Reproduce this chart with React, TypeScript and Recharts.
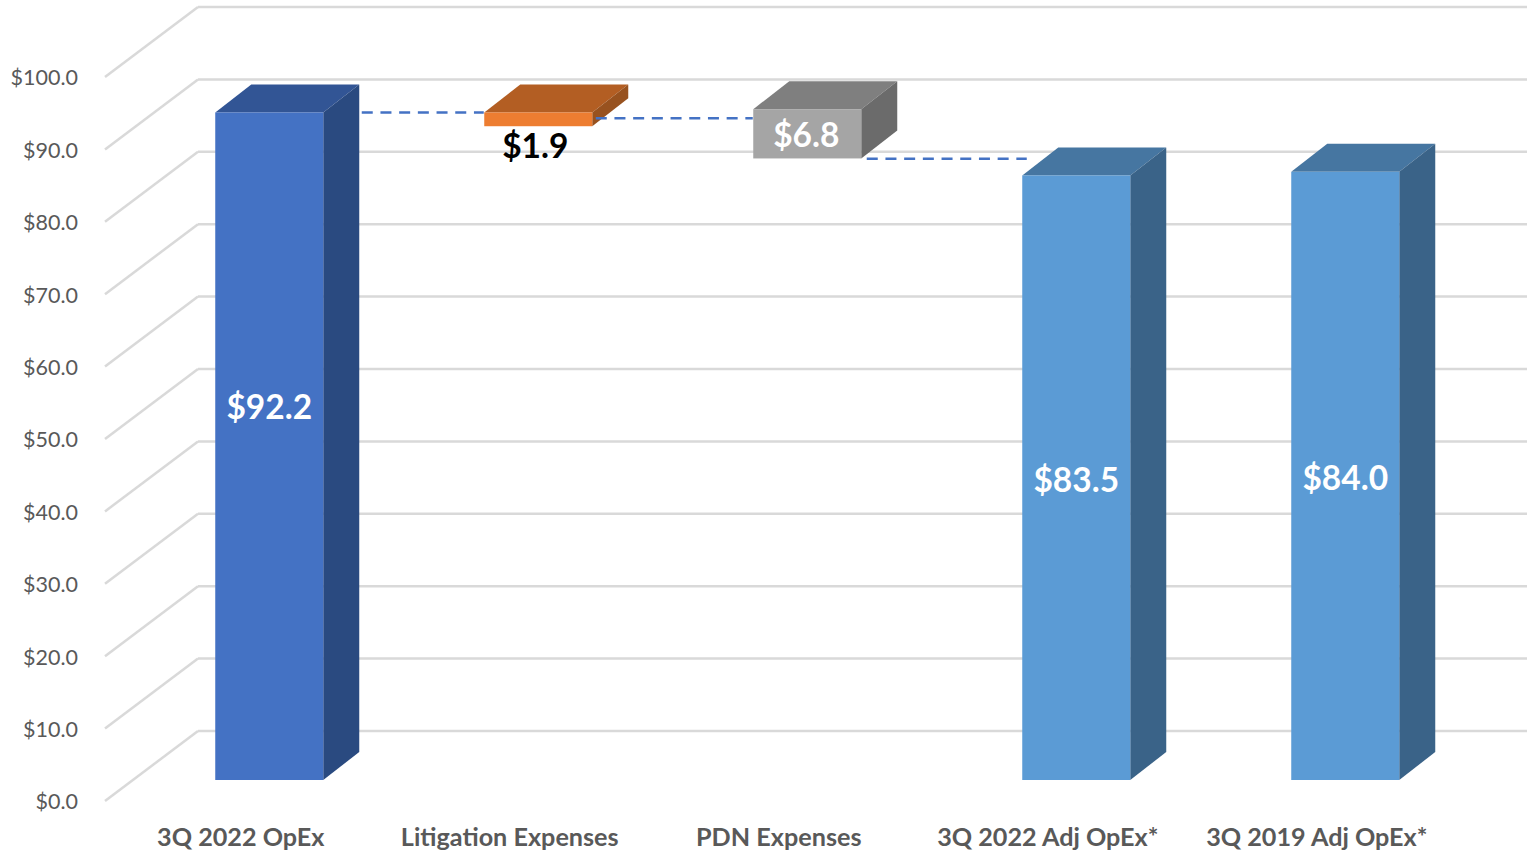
import { BarChart, Bar, XAxis, YAxis, CartesianGrid, LabelList, ReferenceLine, Cell } from 'recharts'

const categories = ['3Q 2022 OpEx', 'Litigation Expenses', 'PDN Expenses', '3Q 2022 Adj OpEx*', '3Q 2019 Adj OpEx*']
const amounts = [92.2, 1.9, 6.8, 83.5, 84.0]
const floors = [0, 90.3, 85.85, 0, 0]
const yTicks = [0, 10, 20, 30, 40, 50, 60, 70, 80, 90, 100]

// dashed connectors between neighbouring columns: [from index, to index, level]
const connectorLevels = [
  [0, 1, 92.2],
  [1, 2, 91.4],
  [2, 3, 85.8],
]

const rows = categories.map((category, i) => ({
  category,
  amount: amounts[i],
  range: [floors[i], floors[i] + amounts[i]],
}))

const WIDTH = 1527
const HEIGHT = 852
const FONT = 'Lato, sans-serif'

// oblique projection of the column boxes and the back wall
const DEPTH_X = 36
const DEPTH_Y = 28
const WALL_LEFT = 198
const WALL_RISE = 49
const FLOOR_LEFT = 105
const FLOOR_DROP = 21

const faces = [
  { front: '#4472c4', side: '#2a4a80', top: '#325595' },
  { front: '#ed7d31', side: '#98521f', top: '#b35e23' },
  { front: '#a5a5a5', side: '#6b6b6b', top: '#7f7f7f' },
  { front: '#5b9bd5', side: '#3a6388', top: '#4676a1' },
  { front: '#5b9bd5', side: '#3a6388', top: '#4676a1' },
]

// per-column label placement, relative to the middle of the column
const labelShift = [
  { dx: 0, dy: -36, color: '#ffffff' },
  { dx: -3, dy: 30, color: '#000000' },
  { dx: -1, dy: 5, color: '#ffffff' },
  { dx: 0, dy: 6, color: '#ffffff' },
  { dx: 0, dy: 5, color: '#ffffff' },
]

// how far each connector is pulled back from the column centres
const connectorTrim = [
  [93, 54],
  [58, 54],
  [60, 49],
]

function Box3D({ x, y, width, height, index }: any) {
  const c = faces[index]
  const r = x + width
  const b = y + height
  return (
    <g>
      <polygon points={`${x},${y} ${x + DEPTH_X},${y - DEPTH_Y} ${r + DEPTH_X},${y - DEPTH_Y} ${r},${y}`} fill={c.top} />
      <polygon points={`${r},${y} ${r + DEPTH_X},${y - DEPTH_Y} ${r + DEPTH_X},${b - DEPTH_Y} ${r},${b}`} fill={c.side} />
      <rect x={x} y={y} width={width} height={height} fill={c.front} />
    </g>
  )
}

function WallLine({ y1 }: any) {
  return (
    <g stroke="#d9d9d9" strokeWidth={2.5} fill="none">
      <line x1={FLOOR_LEFT} y1={y1 + FLOOR_DROP} x2={WALL_LEFT} y2={y1 - WALL_RISE} />
      <line x1={WALL_LEFT} y1={y1 - WALL_RISE} x2={WIDTH} y2={y1 - WALL_RISE} />
    </g>
  )
}

function ValueTick({ y, payload }: any) {
  return (
    <text x={78} y={y + 24} textAnchor="end" dominantBaseline="middle" fontFamily={FONT} fontSize={21.5} fill="#595959">
      {`$${payload.value.toFixed(1)}`}
    </text>
  )
}

function CategoryTick({ x, payload }: any) {
  return (
    <text x={x - 28} y={840} textAnchor="middle" dominantBaseline="middle" fontFamily={FONT} fontSize={25.2} fontWeight={700} fill="#595959">
      {payload.value}
    </text>
  )
}

function AmountLabel({ x, y, width, height, index }: any) {
  const s = labelShift[index]
  return (
    <text
      x={x + width / 2 + s.dx}
      y={y + height / 2 + s.dy}
      textAnchor="middle"
      dominantBaseline="middle"
      fontFamily={FONT}
      fontSize={33.5}
      fontWeight={700}
      fill={s.color}
    >
      {`$${amounts[index].toFixed(1)}`}
    </text>
  )
}

export default function App() {
  return (
    <div style={{ position: 'absolute', left: 0, top: 0, width: WIDTH, height: HEIGHT, background: '#fff' }}>
      <BarChart
        width={WIDTH}
        height={HEIGHT}
        data={rows}
        margin={{ top: 56, right: 47.75, bottom: 0, left: 10.25 }}
      >
        <CartesianGrid vertical={false} horizontal={(props: any) => <WallLine key={props.index} {...props} />} />
        <XAxis dataKey="category" height={72} axisLine={false} tickLine={false} tick={<CategoryTick />} interval={0} />
        <YAxis width={124} domain={[0, 100]} ticks={yTicks} axisLine={false} tickLine={false} tick={<ValueTick />} />
        <Bar dataKey="range" barSize={108} isAnimationActive={false} shape={<Box3D />}>
          {rows.map((row) => (
            <Cell key={row.category} />
          ))}
          <LabelList dataKey="amount" content={<AmountLabel />} />
        </Bar>
        {connectorLevels.map(([from, to, level], i) => (
          <ReferenceLine
            key={i}
            ifOverflow="visible"
            segment={[
              { x: categories[from], y: level },
              { x: categories[to], y: level },
            ]}
            shape={(p: any) => (
              <line
                x1={p.x1 + connectorTrim[i][0]}
                y1={p.y1}
                x2={p.x2 - connectorTrim[i][1]}
                y2={p.y2}
                stroke="#4472c4"
                strokeWidth={2.5}
                strokeDasharray="11 7.7"
              />
            )}
          />
        ))}
      </BarChart>
    </div>
  )
}
